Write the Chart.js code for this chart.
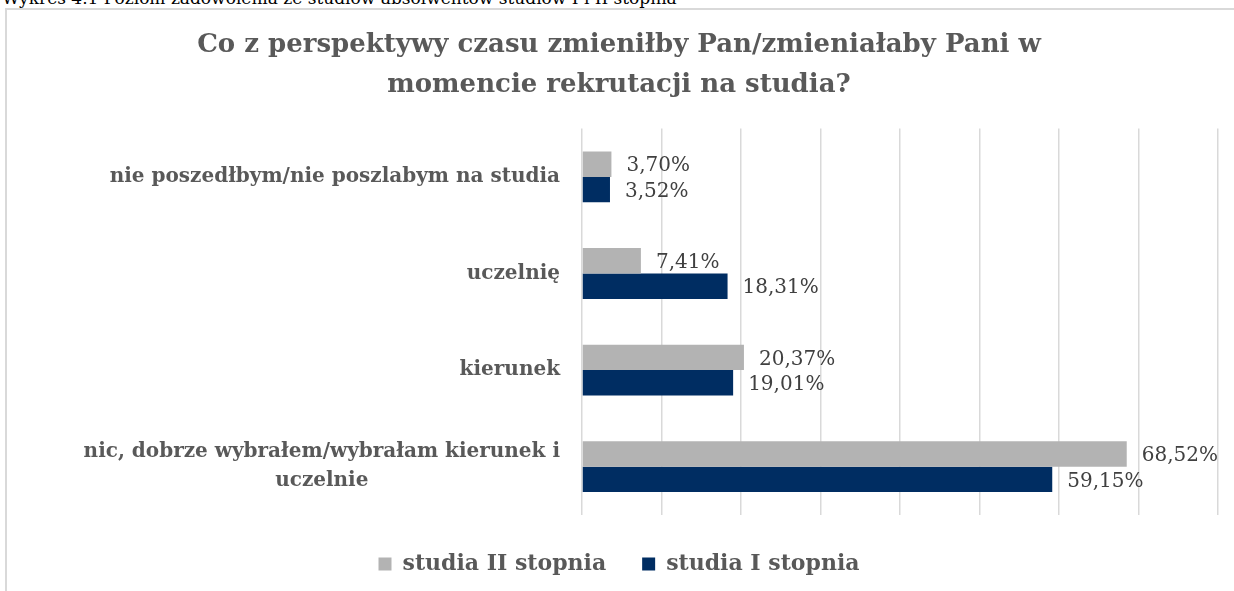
<!DOCTYPE html>
<html>
<head>
<meta charset="utf-8">
<script src="https://cdn.jsdelivr.net/npm/chart.js@4/dist/chart.umd.min.js"></script>
<style>
  body { margin: 0; background: #fff; overflow: hidden; }
  #cap { position: absolute; left: 2px; top: -12px; font: 17px "DejaVu Serif", serif; color: #000; white-space: nowrap; }
  #box { position: absolute; left: 5px; top: 8px; width: 1240px; height: 590px; border: 2px solid #d9d9d9; box-sizing: border-box; }
  #wrap { position: absolute; left: 0; top: 0; width: 1234px; height: 591px; }
</style>
</head>
<body>
<div id="cap">Wykres 4.1 Poziom zadowolenia ze studiów absolwentów studiów I i II stopnia</div>
<div id="box"></div>
<div id="wrap"><canvas id="chart"></canvas></div>
<script>
const categories = [
  ["nie poszedłbym/nie poszlabym na studia"],
  ["uczelnię"],
  ["kierunek"],
  ["nic, dobrze wybrałem/wybrałam kierunek i", "uczelnie"]
];
const studiaII = [3.70, 7.41, 20.37, 68.52];
const studiaI = [3.52, 18.31, 19.01, 59.15];
const titleLines = ["Co z perspektywy czasu zmieniłby Pan/zmieniałaby Pani w", "momencie rekrutacji na studia?"];

const serif = "'DejaVu Serif', serif";

// category labels drawn centred as a block, right edge next to the axis
const catLabels = {
  id: "catLabels",
  afterDraw(chart) {
    const { ctx, scales: { y } } = chart;
    ctx.save();
    ctx.font = "bold 20px " + serif;
    ctx.fillStyle = "#595959";
    ctx.textBaseline = "middle";
    ctx.textAlign = "center";
    const right = y.right - 22;
    categories.forEach((lines, i) => {
      const yc = y.getPixelForValue(i);
      const w = Math.max(...lines.map(l => ctx.measureText(l).width));
      const lh = 29;
      lines.forEach((l, j) => {
        ctx.fillText(l, right - w / 2, yc + (j - (lines.length - 1) / 2) * lh);
      });
    });
    ctx.restore();
  }
};

// percent labels at the bar ends
const valueLabels = {
  id: "valueLabels",
  afterDatasetsDraw(chart) {
    const { ctx } = chart;
    ctx.save();
    ctx.font = "20px " + serif;
    ctx.fillStyle = "#404040";
    ctx.textBaseline = "middle";
    ctx.textAlign = "left";
    chart.data.datasets.forEach((ds, di) => {
      chart.getDatasetMeta(di).data.forEach((bar, i) => {
        const txt = ds.data[i].toFixed(2).replace(".", ",") + "%";
        ctx.fillText(txt, bar.x + 15, bar.y + 2);
      });
    });
    ctx.restore();
  }
};

new Chart(document.getElementById("chart"), {
  type: "bar",
  data: {
    labels: categories.map(c => c.join(" ")),
    datasets: [
      { label: "studia II stopnia", data: studiaII, backgroundColor: "#b3b3b3" },
      { label: "studia I stopnia", data: studiaI, backgroundColor: "#002d62" }
    ]
  },
  options: {
    indexAxis: "y",
    responsive: true,
    maintainAspectRatio: false,
    animation: false,
    layout: { padding: { top: 10, right: 16, bottom: 6, left: 20 } },
    datasets: { bar: { categoryPercentage: 0.526, barPercentage: 1 } },
    plugins: {
      title: {
        display: true,
        text: titleLines,
        color: "#595959",
        font: { family: serif, size: 26, weight: "bold", lineHeight: 1.55 },
        padding: { top: 15, bottom: 23 }
      },
      legend: {
        position: "bottom",
        labels: {
          color: "#595959",
          font: { family: serif, size: 22, weight: "bold" },
          boxWidth: 13,
          boxHeight: 13,
          padding: 36
        }
      },
      tooltip: { enabled: false }
    },
    scales: {
      x: {
        min: 0,
        max: 80,
        ticks: { display: false, stepSize: 10 },
        grid: { color: "#d9d9d9", lineWidth: 1.5, drawTicks: false },
        border: { display: false },
        afterFit(scale) { scale.height = 2; }
      },
      y: {
        ticks: { display: false },
        grid: { display: false },
        border: { display: false },
        afterFit(scale) { scale.width = 562; }
      }
    }
  },
  plugins: [catLabels, valueLabels]
});
</script>
</body>
</html>
